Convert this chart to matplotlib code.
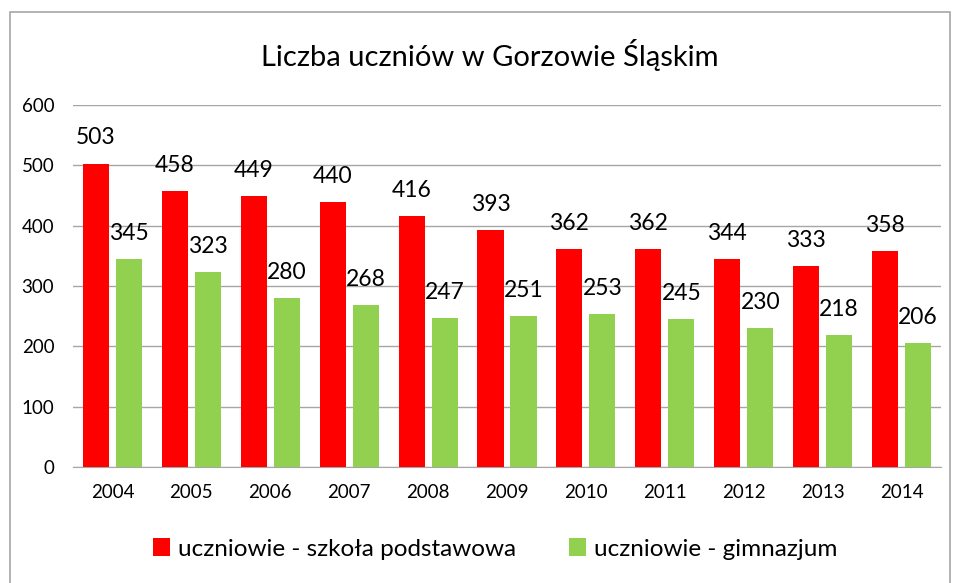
import matplotlib
matplotlib.use("Agg")
import matplotlib.pyplot as plt
import numpy as np
from matplotlib.patches import Rectangle

years = ["2004", "2005", "2006", "2007", "2008", "2009", "2010", "2011", "2012", "2013", "2014"]
podstawowa = [503, 458, 449, 440, 416, 393, 362, 362, 344, 333, 358]
gimnazjum = [345, 323, 280, 268, 247, 251, 253, 245, 230, 218, 206]
series_names = ["uczniowie - szkoła podstawowa", "uczniowie - gimnazjum"]
title = "Liczba uczniów w Gorzowie Śląskim"

plt.rcParams['font.family'] = ['Lato', 'DejaVu Sans']

W, H = 958, 583
fig = plt.figure(figsize=(W / 100, H / 100), dpi=100)
ax = fig.add_axes([73 / W, 1 - 467 / H, (941 - 73) / W, (467 - 105) / H])

x = np.arange(len(years))
bw = 0.33
off = 0.209
red = "#FF0000"
green = "#92D050"
b1 = ax.bar(x - off, podstawowa, bw, color=red, label=series_names[0], zorder=3)
b2 = ax.bar(x + off, gimnazjum, bw, color=green, label=series_names[1], zorder=3)

for bars, vals in ((b1, podstawowa), (b2, gimnazjum)):
    for r, v in zip(bars, vals):
        ax.annotate(str(v), (r.get_x() + r.get_width() / 2, v), xytext=(0, 13.7),
                    textcoords="offset points", ha="center", va="baseline",
                    fontsize=16.5, color="#000000")

ax.set_xlim(-0.5, len(years) - 0.5)
ax.set_ylim(0, 600)
ax.set_yticks(range(0, 601, 100))
ax.set_xticks(x)
ax.set_xticklabels(years)
ax.yaxis.grid(True, color="#A6A6A6", linewidth=1, zorder=0)
ax.set_axisbelow(True)
for s in ["top", "right", "left"]:
    ax.spines[s].set_visible(False)
ax.spines["bottom"].set_color("#A6A6A6")
ax.tick_params(axis="both", length=0, labelsize=13.5, colors="#000000")
ax.tick_params(axis="x", pad=12)
ax.tick_params(axis="y", pad=13.5)

fig.text(490 / W, 1 - 55 / H, title, ha="center", va="center", fontsize=21)

leg = fig.legend(handles=[b1, b2], labels=series_names, loc="center",
                 bbox_to_anchor=(495 / W, 1 - 549 / H), ncol=2, frameon=False,
                 fontsize=17.5, handlelength=0.7, handleheight=0.7, handletextpad=0.35,
                 columnspacing=2.15)

fig.patches.append(Rectangle((10 / W, -0.01), (950 - 10) / W, 1 - 12 / H + 0.01,
                             transform=fig.transFigure, fill=False,
                             edgecolor="#A6A6A6", linewidth=1.2))

fig.savefig("out.png", dpi=100)
